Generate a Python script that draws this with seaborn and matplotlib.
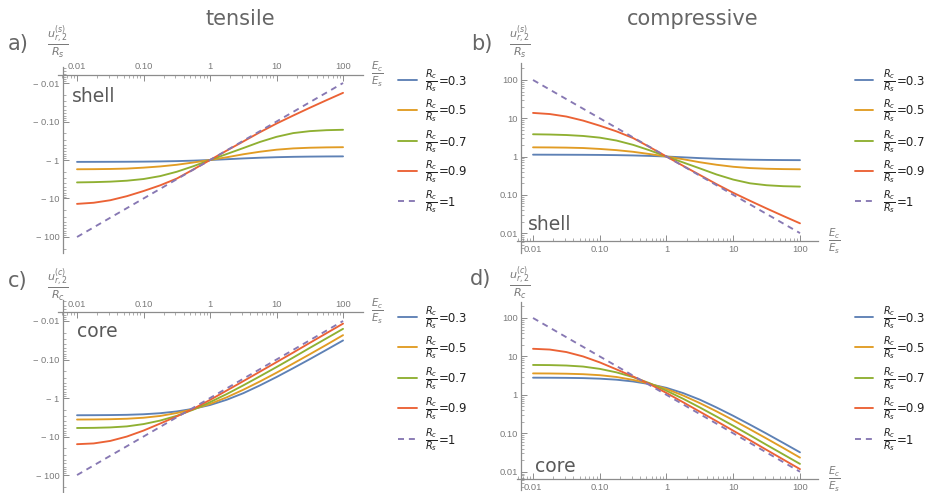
import numpy as np
import pandas as pd
import matplotlib
matplotlib.use("Agg")
import matplotlib.pyplot as plt
import seaborn as sns
from matplotlib.ticker import FixedLocator, FixedFormatter, NullFormatter
from matplotlib.lines import Line2D

# ---------------- data ----------------
E_ratio = [0.01, 0.0178, 0.0316, 0.0562, 0.1, 0.178, 0.316, 0.562, 1.0,
           1.78, 3.16, 5.62, 10.0, 17.8, 31.6, 56.2, 100.0]
R_ratios = ["0.3", "0.5", "0.7", "0.9", "1"]

# a) tensile, shell
shell_tens_03 = [-1.12, -1.117, -1.114, -1.11, -1.102, -1.089, -1.069, -1.039, -1.0,
                 -0.955, -0.91, -0.873, -0.846, -0.827, -0.816, -0.809, -0.805]
shell_tens_05 = [-1.74, -1.73, -1.71, -1.67, -1.58, -1.47, -1.33, -1.16, -1.0,
                 -0.85, -0.71, -0.61, -0.54, -0.50, -0.48, -0.47, -0.465]
shell_tens_07 = [-3.82, -3.76, -3.65, -3.45, -3.12, -2.62, -2.02, -1.45, -1.0,
                 -0.70, -0.49, -0.34, -0.25, -0.20, -0.178, -0.168, -0.164]
shell_tens_09 = [-13.8, -12.9, -11.1, -8.7, -6.4, -4.55, -3.04, -1.76, -1.0,
                 -0.57, -0.33, -0.19, -0.113, -0.07, -0.044, -0.028, -0.018]
shell_tens_10 = [-100, -56.2, -31.6, -17.8, -10, -5.62, -3.16, -1.78, -1,
                 -0.562, -0.316, -0.178, -0.1, -0.0562, -0.0316, -0.0178, -0.01]

# b) compressive, shell
shell_comp_03 = [1.12, 1.117, 1.114, 1.11, 1.102, 1.089, 1.069, 1.039, 1.0,
                 0.955, 0.91, 0.873, 0.846, 0.827, 0.816, 0.809, 0.805]
shell_comp_05 = [1.74, 1.73, 1.71, 1.67, 1.58, 1.47, 1.33, 1.16, 1.0,
                 0.85, 0.71, 0.61, 0.54, 0.50, 0.48, 0.47, 0.465]
shell_comp_07 = [3.82, 3.76, 3.65, 3.45, 3.12, 2.62, 2.02, 1.45, 1.0,
                 0.70, 0.49, 0.34, 0.25, 0.20, 0.178, 0.168, 0.164]
shell_comp_09 = [13.8, 12.9, 11.1, 8.7, 6.4, 4.55, 3.04, 1.76, 1.0,
                 0.57, 0.33, 0.19, 0.113, 0.07, 0.044, 0.028, 0.018]
shell_comp_10 = [100, 56.2, 31.6, 17.8, 10, 5.62, 3.16, 1.78, 1,
                 0.562, 0.316, 0.178, 0.1, 0.0562, 0.0316, 0.0178, 0.01]

# c) tensile, core
core_tens_03 = [-2.8, -2.79, -2.77, -2.73, -2.64, -2.48, -2.23, -1.9, -1.52,
                -1.11, -0.75, -0.47, -0.285, -0.168, -0.098, -0.0562, -0.032]
core_tens_05 = [-3.62, -3.6, -3.55, -3.45, -3.25, -2.92, -2.45, -1.95, -1.42,
                -0.96, -0.61, -0.372, -0.22, -0.127, -0.073, -0.0415, -0.0233]
core_tens_07 = [-6.0, -5.95, -5.8, -5.45, -4.75, -3.85, -2.9, -2.0, -1.28,
                -0.79, -0.47, -0.273, -0.157, -0.089, -0.050, -0.0283, -0.016]
core_tens_09 = [-15.8, -15.1, -13.0, -10.0, -7.0, -4.6, -3.0, -1.9, -1.12,
                -0.64, -0.365, -0.207, -0.117, -0.066, -0.037, -0.0208, -0.0117]
core_tens_10 = [-100, -56.2, -31.6, -17.8, -10, -5.62, -3.16, -1.78, -1,
                -0.562, -0.316, -0.178, -0.1, -0.0562, -0.0316, -0.0178, -0.01]

# d) compressive, core
core_comp_03 = [2.8, 2.79, 2.77, 2.73, 2.64, 2.48, 2.23, 1.9, 1.52,
                1.11, 0.75, 0.47, 0.285, 0.168, 0.098, 0.0562, 0.032]
core_comp_05 = [3.62, 3.6, 3.55, 3.45, 3.25, 2.92, 2.45, 1.95, 1.42,
                0.96, 0.61, 0.372, 0.22, 0.127, 0.073, 0.0415, 0.0233]
core_comp_07 = [6.0, 5.95, 5.8, 5.45, 4.75, 3.85, 2.9, 2.0, 1.28,
                0.79, 0.47, 0.273, 0.157, 0.089, 0.050, 0.0283, 0.016]
core_comp_09 = [15.8, 15.1, 13.0, 10.0, 7.0, 4.6, 3.0, 1.9, 1.12,
                0.64, 0.365, 0.207, 0.117, 0.066, 0.037, 0.0208, 0.0117]
core_comp_10 = [100, 56.2, 31.6, 17.8, 10, 5.62, 3.16, 1.78, 1,
                0.562, 0.316, 0.178, 0.1, 0.0562, 0.0316, 0.0178, 0.01]

x_ticks = [0.01, 0.1, 1, 10, 100]
x_ticklabels = ["0.01", "0.10", "1", "10", "100"]
y_ticks_pos = [0.01, 0.1, 1, 10, 100]
y_ticklabels_pos = ["0.01", "0.10", "1", "10", "100"]
y_ticks_neg = [-0.01, -0.1, -1, -10, -100]
y_ticklabels_neg = ["\u2212 0.01", "\u2212 0.10", "\u2212 1", "\u2212 10", "\u2212 100"]

# ---------------- style ----------------
sns.set_style("white")
plt.rcParams["font.family"] = ["DejaVu Sans"]
plt.rcParams["mathtext.fontset"] = "dejavusans"

colors = {"0.3": "#5E81B5", "0.5": "#E19C24", "0.7": "#8FB032",
          "0.9": "#EB6235", "1": "#8778B3"}
dashes = {"0.3": "", "0.5": "", "0.7": "", "0.9": "", "1": (3.2, 2.6)}
SPINE = "#8c8c8c"
TICKLAB = "#7a7a7a"
TXT = "#666666"

W, H = 928, 493
fig = plt.figure(figsize=(W / 100, H / 100), dpi=100)


def rect(l, t, r, b):
    return [l / W, 1 - b / H, (r - l) / W, (b - t) / H]


def fx(x):
    return x / W


def fy(y):
    return 1 - y / H


def make_df(series):
    rows = []
    for name, vals in zip(R_ratios, series):
        for e, v in zip(E_ratio, vals):
            rows.append({"E": e, "u": v, "R": name})
    return pd.DataFrame(rows)


def minor_positions(lo_exp, hi_exp, sign=1):
    out = []
    for n in range(lo_exp, hi_exp + 1):
        for k in range(2, 10):
            out.append(sign * k * 10.0 ** n)
    return out


panels = [
    dict(series=[shell_tens_03, shell_tens_05, shell_tens_07, shell_tens_09, shell_tens_10],
         box=(58, 67, 363, 253), xlim=(10 ** -2.286, 10 ** 2.30),
         ylim=(-10 ** 2.416, -10 ** -2.416), xspine=-10 ** -2.21, yspine=10 ** -2.21,
         tensile=True),
    dict(series=[shell_comp_03, shell_comp_05, shell_comp_07, shell_comp_09, shell_comp_10],
         box=(517, 63, 818, 253), xlim=(10 ** -2.24, 10 ** 2.27),
         ylim=(10 ** -2.52, 10 ** 2.444), xspine=10 ** -2.21, yspine=10 ** -2.18,
         tensile=False),
    dict(series=[core_tens_03, core_tens_05, core_tens_07, core_tens_09, core_tens_10],
         box=(58, 300, 363, 492), xlim=(10 ** -2.286, 10 ** 2.30),
         ylim=(-10 ** 2.44, -10 ** -2.545), xspine=-10 ** -2.234, yspine=10 ** -2.21,
         tensile=True),
    dict(series=[core_comp_03, core_comp_05, core_comp_07, core_comp_09, core_comp_10],
         box=(517, 302, 818, 490), xlim=(10 ** -2.24, 10 ** 2.27),
         ylim=(10 ** -2.475, 10 ** 2.416), xspine=10 ** -2.2, yspine=10 ** -2.18,
         tensile=False),
]

for p in panels:
    ax = fig.add_axes(rect(*p["box"]))
    ax.set_facecolor("none")
    df = make_df(p["series"])
    sns.lineplot(data=df, x="E", y="u", hue="R", style="R", palette=colors,
                 dashes=dashes, estimator=None, sort=True, legend=False,
                 linewidth=1.35, ax=ax)
    ax.set_xscale("log")
    if p["tensile"]:
        ax.set_yscale("symlog", linthresh=1e-4)
    else:
        ax.set_yscale("log")
    ax.set_xlim(*p["xlim"])
    ax.set_ylim(*p["ylim"])
    ax.set_xlabel("")
    ax.set_ylabel("")

    for s in ax.spines.values():
        s.set_visible(False)
    ax.spines["left"].set_visible(True)
    ax.spines["left"].set_position(("data", p["yspine"]))
    xs = "top" if p["tensile"] else "bottom"
    ax.spines[xs].set_visible(True)
    ax.spines[xs].set_position(("data", p["xspine"]))
    for s in ("left", xs):
        ax.spines[s].set_color(SPINE)
        ax.spines[s].set_linewidth(0.9)

    ax.xaxis.set_ticks_position(xs)
    ax.xaxis.set_major_locator(FixedLocator(x_ticks))
    ax.xaxis.set_major_formatter(FixedFormatter(x_ticklabels))
    ax.xaxis.set_minor_locator(FixedLocator(minor_positions(-3, 2)))
    ax.xaxis.set_minor_formatter(NullFormatter())
    if p["tensile"]:
        ax.yaxis.set_major_locator(FixedLocator(y_ticks_neg))
        ax.yaxis.set_major_formatter(FixedFormatter(y_ticklabels_neg))
        ax.yaxis.set_minor_locator(FixedLocator(minor_positions(-3, 2, -1)))
    else:
        ax.yaxis.set_major_locator(FixedLocator(y_ticks_pos))
        ax.yaxis.set_major_formatter(FixedFormatter(y_ticklabels_pos))
        ax.yaxis.set_minor_locator(FixedLocator(minor_positions(-3, 2)))
    ax.yaxis.set_minor_formatter(NullFormatter())
    ax.yaxis.set_ticks_position("left")
    ax.tick_params(which="major", direction="in", length=4, width=0.7,
                   color=SPINE, labelcolor=TICKLAB, labelsize=6.7, pad=2.5)
    ax.tick_params(which="minor", direction="in", length=2, width=0.5, color=SPINE)
    for lab in ax.get_xticklabels() + ax.get_yticklabels():
        lab.set_fontfamily(["Liberation Sans", "DejaVu Sans"])
    ax.grid(False)

# ---------------- texts ----------------
fig.text(fx(240), fy(25), "tensile", fontsize=15, color=TXT, ha="center", va="baseline")
fig.text(fx(693), fy(25), "compressive", fontsize=15, color=TXT, ha="center", va="baseline")

for lab, x, y in [("a)", 8, 50), ("b)", 471, 50), ("c)", 8, 287), ("d)", 470, 285)]:
    fig.text(fx(x), fy(y), lab, fontsize=15, color=TXT, ha="left", va="baseline")

for lab, x, y in [("shell", 72, 102), ("shell", 528, 230), ("core", 77, 337), ("core", 535, 472)]:
    fig.text(fx(x), fy(y), lab, fontsize=13.5, color="#5a5a5a", ha="left", va="baseline")

ylab_s = r"$\frac{u_{r,2}^{(s)}}{R_s}$"
ylab_c = r"$\frac{u_{r,2}^{(c)}}{R_c}$"
for lab, x, y in [(ylab_s, 58, 42), (ylab_s, 520, 42), (ylab_c, 58, 285), (ylab_c, 520, 283)]:
    fig.text(fx(x), fy(y), lab, fontsize=11.5, color=TICKLAB, ha="center", va="center")

xlab = r"$\frac{E_c}{E_s}$"
for x, y in [(377, 74), (834, 241), (377, 311), (834, 479)]:
    fig.text(fx(x), fy(y), xlab, fontsize=10.5, color=TICKLAB, ha="center", va="center")

# legends
renderer = fig.canvas.get_renderer()
leg_rows_top = [80, 110, 141, 171, 201]
leg_rows_bot = [317, 347, 378, 408, 439]
for (x0, x1, tx), rows in [((398, 417, 425), leg_rows_top), ((855, 873, 883), leg_rows_top),
                           ((398, 417, 425), leg_rows_bot), ((855, 873, 883), leg_rows_bot)]:
    for name, y in zip(R_ratios, rows):
        ln = Line2D([fx(x0), fx(x1)], [fy(y), fy(y)], transform=fig.transFigure,
                    color=colors[name], lw=1.35,
                    linestyle=(0, (3.2, 2.6)) if name == "1" else "-")
        fig.add_artist(ln)
        t = fig.text(fx(tx), fy(y + 1.5), r"$\frac{R_c}{R_s}$", fontsize=10,
                     color="#222222", ha="left", va="center")
        bb = t.get_window_extent(renderer=renderer)
        fig.text(bb.x1 / W + 0.6 / W, fy(y + 1), "=" + name, fontsize=8.5,
                 color="#222222", ha="left", va="center")

fig.savefig("out.png", dpi=100)
